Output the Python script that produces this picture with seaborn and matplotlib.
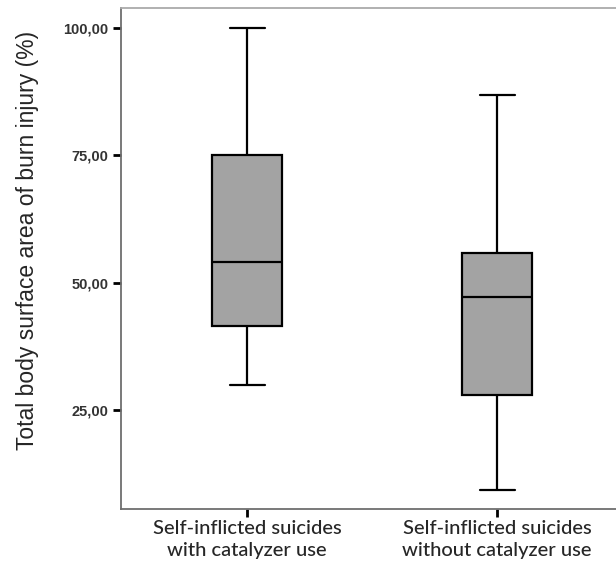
import pandas as pd
import seaborn as sns
import matplotlib.pyplot as plt

# five-number summaries (min, Q1, median, Q3, max)
with_catalyzer = [29.9, 41.6, 54.1, 75.0, 100.0]
without_catalyzer = [9.3, 27.9, 47.1, 55.9, 86.8]
groups = ['Self-inflicted suicides\nwith catalyzer use',
          'Self-inflicted suicides\nwithout catalyzer use']
yticks = [25, 50, 75, 100]
ytick_labels = ['25,00', '50,00', '75,00', '100,00']

df = pd.DataFrame({
    'group': [groups[0]] * len(with_catalyzer) + [groups[1]] * len(without_catalyzer),
    'tbsa': with_catalyzer + without_catalyzer,
})

sns.set_style('white')
fig, ax = plt.subplots(figsize=(6.16, 5.67), dpi=100)
fig.subplots_adjust(left=121 / 616, right=1.0, top=1 - 8 / 567, bottom=1 - 509 / 567)

sns.boxplot(data=df, x='group', y='tbsa', order=groups, whis=(0, 100),
            color='#a3a3a3', saturation=1, width=0.28, linewidth=1.6,
            linecolor='black', ax=ax)

ax.set_xlim(-0.504, 1.476)
ax.set_ylim(5.6, 103.9)
ax.set_yticks(yticks)
ax.set_yticklabels(ytick_labels, fontsize=10.5, family='Liberation Sans',
                   fontweight='bold', color='#333333')
ax.set_xticks([0, 1])
ax.set_xticklabels(groups, fontsize=14.5, family='Lato', fontweight='medium',
                   linespacing=1.35)
ax.tick_params(axis='both', direction='out', length=6, width=2, color='black',
               left=True, bottom=True)
ax.tick_params(axis='y', pad=3)
ax.tick_params(axis='x', pad=2)

ax.set_xlabel('')
ax.set_ylabel('Total body surface area of burn injury (%)', fontsize=16.5,
              family='Liberation Sans')
ax.yaxis.set_label_coords(-0.166, 0.537)

for side in ['left', 'bottom', 'top']:
    ax.spines[side].set_color('#6e6e6e')
    ax.spines[side].set_linewidth(1.3)
ax.spines['top'].set_color('#aaaaaa')
ax.spines['right'].set_visible(False)

fig.savefig('out.png', dpi=100)
